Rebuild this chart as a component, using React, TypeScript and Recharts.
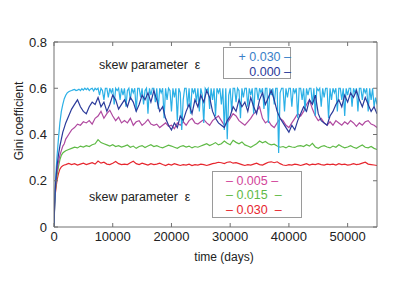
import React from 'react'
import { LineChart, Line, XAxis, YAxis } from 'recharts'

// time axis (days) shared by most series
const times = [
  0, 100, 250, 500, 750, 1000, 1250, 1500, 1750, 2000,
  2500, 3000, 3500, 4000, 4500, 5000, 5500, 6000, 6500, 7000,
  7500, 8000, 8500, 9000, 9500, 10000, 10500, 11000, 11500, 12000,
  12500, 13000, 13500, 14000, 14500, 15000, 15500, 16000, 16500, 17000,
  17500, 18000, 18500, 19000, 19500, 20000, 20500, 21000, 21500, 22000,
  22500, 23000, 23500, 24000, 24500, 25000, 25500, 26000, 26500, 27000,
  27500, 28000, 28500, 29000, 29500, 30000, 30500, 31000, 31500, 32000,
  32500, 33000, 33500, 34000, 34500, 35000, 35500, 36000, 36500, 37000,
  37500, 38000, 38500, 39000, 39500, 40000, 40500, 41000, 41500, 42000,
  42500, 43000, 43500, 44000, 44500, 45000, 45500, 46000, 46500, 47000,
  47500, 48000, 48500, 49000, 49500, 50000, 50500, 51000, 51500, 52000,
  52500, 53000, 53500, 54000, 54500, 55000,
]

// finer time axis for the noisy eps = +0.030 run
const timesFine = [
  0, 250, 500, 750, 1000, 1250, 1500, 1750, 2000, 2250,
  2500, 2750, 3000, 3250, 3500, 3750, 4000, 4250, 4500, 4750,
  5000, 5250, 5500, 5750, 6000, 6250, 6500, 6750, 7000, 7250,
  7500, 7750, 8000, 8250, 8500, 8750, 9000, 9250, 9500, 9750,
  10000, 10250, 10500, 10750, 11000, 11250, 11500, 11750, 12000, 12250,
  12500, 12750, 13000, 13250, 13500, 13750, 14000, 14250, 14500, 14750,
  15000, 15250, 15500, 15750, 16000, 16250, 16500, 16750, 17000, 17250,
  17500, 17750, 18000, 18250, 18500, 18750, 19000, 19250, 19500, 19750,
  20000, 20250, 20500, 20750, 21000, 21250, 21500, 21750, 22000, 22250,
  22500, 22750, 23000, 23250, 23500, 23750, 24000, 24250, 24500, 24750,
  25000, 25250, 25500, 25750, 26000, 26250, 26500, 26750, 27000, 27250,
  27500, 27750, 28000, 28250, 28500, 28750, 29000, 29250, 29500, 29750,
  30000, 30250, 30500, 30750, 31000, 31250, 31500, 31750, 32000, 32250,
  32500, 32750, 33000, 33250, 33500, 33750, 34000, 34250, 34500, 34750,
  35000, 35250, 35500, 35750, 36000, 36250, 36500, 36750, 37000, 37250,
  37500, 37750, 38000, 38250, 38500, 38750, 39000, 39250, 39500, 39750,
  40000, 40250, 40500, 40750, 41000, 41250, 41500, 41750, 42000, 42250,
  42500, 42750, 43000, 43250, 43500, 43750, 44000, 44250, 44500, 44750,
  45000, 45250, 45500, 45750, 46000, 46250, 46500, 46750, 47000, 47250,
  47500, 47750, 48000, 48250, 48500, 48750, 49000, 49250, 49500, 49750,
  50000, 50250, 50500, 50750, 51000, 51250, 51500, 51750, 52000, 52250,
  52500, 52750, 53000, 53250, 53500, 53750, 54000, 54250, 54500, 54750, 55000,
]

// eps = +0.030 (on timesFine)
const giniPos030 = [
  0, 0.2, 0.3, 0.38, 0.45, 0.5, 0.53, 0.555, 0.57, 0.58,
  0.585, 0.588, 0.59, 0.593, 0.595, 0.59, 0.592, 0.596, 0.59, 0.598,
  0.592, 0.6, 0.594, 0.6, 0.59, 0.597, 0.6, 0.588, 0.6, 0.594,
  0.6, 0.57, 0.6, 0.59, 0.55, 0.6, 0.6, 0.56, 0.6, 0.58,
  0.6, 0.53, 0.6, 0.59, 0.6, 0.55, 0.6, 0.57, 0.6, 0.52,
  0.59, 0.6, 0.55, 0.6, 0.58, 0.6, 0.5, 0.6, 0.6, 0.56,
  0.6, 0.53, 0.59, 0.6, 0.49, 0.6, 0.57, 0.6, 0.6, 0.54,
  0.6, 0.51, 0.6, 0.58, 0.6, 0.47, 0.6, 0.55, 0.6, 0.59,
  0.5, 0.6, 0.56, 0.6, 0.46, 0.6, 0.58, 0.42, 0.55, 0.6,
  0.6, 0.52, 0.6, 0.49, 0.6, 0.58, 0.6, 0.54, 0.6, 0.5,
  0.6, 0.57, 0.45, 0.6, 0.59, 0.6, 0.51, 0.6, 0.55, 0.6,
  0.48, 0.6, 0.58, 0.6, 0.53, 0.6, 0.42, 0.6, 0.38, 0.57,
  0.6, 0.5, 0.6, 0.6, 0.54, 0.6, 0.59, 0.47, 0.6, 0.56,
  0.6, 0.6, 0.52, 0.6, 0.57, 0.6, 0.49, 0.6, 0.6, 0.55,
  0.6, 0.58, 0.6, 0.51, 0.6, 0.6, 0.45, 0.6, 0.57, 0.6,
  0.53, 0.6, 0.6, 0.32, 0.58, 0.6, 0.6, 0.5, 0.6, 0.56,
  0.6, 0.6, 0.52, 0.6, 0.58, 0.6, 0.47, 0.6, 0.6, 0.55,
  0.6, 0.5, 0.6, 0.57, 0.6, 0.6, 0.53, 0.6, 0.48, 0.6,
  0.59, 0.6, 0.52, 0.6, 0.56, 0.6, 0.6, 0.47, 0.6, 0.55,
  0.6, 0.58, 0.6, 0.5, 0.6, 0.6, 0.55, 0.6, 0.48, 0.6,
  0.57, 0.6, 0.6, 0.52, 0.6, 0.58, 0.6, 0.5, 0.6, 0.6,
  0.55, 0.6, 0.58, 0.6, 0.5, 0.6, 0.55, 0.6, 0.52, 0.56, 0.53,
]

// eps = 0.000
const gini000 = [
  0, 0.1, 0.18, 0.26, 0.31, 0.35, 0.38, 0.41, 0.43, 0.45,
  0.48, 0.51, 0.53, 0.55, 0.52, 0.5, 0.49, 0.52, 0.54, 0.53,
  0.56, 0.52, 0.54, 0.5, 0.53, 0.57, 0.55, 0.51, 0.53, 0.55,
  0.52, 0.56, 0.54, 0.5, 0.53, 0.57, 0.55, 0.58, 0.54, 0.59,
  0.55, 0.5, 0.52, 0.47, 0.44, 0.42, 0.45, 0.43, 0.48, 0.46,
  0.5, 0.53, 0.49, 0.55, 0.52, 0.57, 0.54, 0.59, 0.56, 0.5,
  0.47, 0.45, 0.44, 0.43, 0.46, 0.48, 0.52, 0.5, 0.55, 0.52,
  0.54, 0.5, 0.56, 0.52, 0.49, 0.55, 0.58, 0.53, 0.56, 0.59,
  0.55, 0.5, 0.47, 0.45, 0.43, 0.41, 0.44, 0.42, 0.46, 0.49,
  0.52, 0.5, 0.55, 0.53, 0.57, 0.49, 0.46, 0.45, 0.44, 0.48,
  0.5, 0.53, 0.55, 0.52, 0.57, 0.54, 0.58, 0.56, 0.59, 0.55,
  0.52, 0.56, 0.53, 0.5, 0.52, 0.49,
]

// eps = -0.005
const giniNeg005 = [
  0, 0.1, 0.17, 0.24, 0.28, 0.31, 0.33, 0.35, 0.36, 0.38,
  0.4, 0.42, 0.43, 0.445, 0.44, 0.455, 0.45, 0.46, 0.445, 0.47,
  0.48, 0.5, 0.47, 0.49, 0.505, 0.48, 0.46, 0.475, 0.45, 0.46,
  0.45, 0.47, 0.44, 0.455, 0.46, 0.44, 0.45, 0.465, 0.445, 0.44,
  0.445, 0.43, 0.44, 0.45, 0.435, 0.44, 0.425, 0.45, 0.44, 0.455,
  0.44, 0.46, 0.47, 0.45, 0.445, 0.455, 0.465, 0.45, 0.44, 0.46,
  0.47, 0.48, 0.46, 0.44, 0.45, 0.47, 0.49, 0.48, 0.46, 0.45,
  0.44, 0.455, 0.47, 0.49, 0.5, 0.52, 0.47, 0.45, 0.46, 0.44,
  0.43, 0.45, 0.47, 0.46, 0.44, 0.43, 0.45, 0.47, 0.49, 0.48,
  0.5, 0.53, 0.55, 0.51, 0.48, 0.46, 0.47, 0.45, 0.44, 0.455,
  0.44, 0.46, 0.45, 0.44, 0.455, 0.445, 0.46, 0.45, 0.435, 0.45,
  0.44, 0.455, 0.46, 0.445, 0.44, 0.43,
]

// eps = -0.015
const giniNeg015 = [
  0, 0.1, 0.16, 0.22, 0.26, 0.29, 0.31, 0.32, 0.325, 0.33,
  0.335, 0.34, 0.345, 0.342, 0.35, 0.346, 0.352, 0.348, 0.356, 0.36,
  0.378, 0.365, 0.36, 0.355, 0.35, 0.356, 0.348, 0.352, 0.346, 0.35,
  0.355, 0.345, 0.35, 0.34, 0.348, 0.352, 0.344, 0.35, 0.356, 0.348,
  0.352, 0.346, 0.342, 0.348, 0.354, 0.35, 0.345, 0.34, 0.348, 0.352,
  0.346, 0.35, 0.342, 0.348, 0.345, 0.35, 0.355, 0.36, 0.352, 0.358,
  0.365, 0.355, 0.36, 0.372, 0.362, 0.356, 0.375, 0.366, 0.36, 0.368,
  0.355, 0.35, 0.345, 0.352, 0.36, 0.372, 0.364, 0.37, 0.36, 0.355,
  0.358, 0.35, 0.345, 0.348, 0.342, 0.35, 0.346, 0.344, 0.35, 0.352,
  0.348, 0.356, 0.35, 0.362, 0.346, 0.34, 0.348, 0.352, 0.346, 0.342,
  0.35, 0.345, 0.356, 0.348, 0.342, 0.346, 0.352, 0.345, 0.34, 0.348,
  0.355, 0.345, 0.342, 0.348, 0.34, 0.335,
]

// eps = -0.030
const giniNeg030 = [
  0, 0.09, 0.15, 0.2, 0.23, 0.25, 0.26, 0.265, 0.268, 0.27,
  0.275, 0.27, 0.274, 0.268, 0.272, 0.276, 0.27, 0.274, 0.278, 0.272,
  0.285, 0.276, 0.28, 0.272, 0.27, 0.276, 0.283, 0.274, 0.27, 0.272,
  0.27, 0.278, 0.284, 0.274, 0.27, 0.276, 0.272, 0.268, 0.274, 0.27,
  0.272, 0.276, 0.27, 0.266, 0.272, 0.268, 0.274, 0.27, 0.266, 0.27,
  0.268, 0.272, 0.266, 0.27, 0.268, 0.272, 0.27, 0.266, 0.27, 0.274,
  0.276, 0.28, 0.278, 0.274, 0.28, 0.282, 0.276, 0.278, 0.274, 0.27,
  0.266, 0.27, 0.268, 0.272, 0.276, 0.27, 0.268, 0.274, 0.28, 0.282,
  0.278, 0.282, 0.274, 0.268, 0.266, 0.27, 0.268, 0.272, 0.27, 0.266,
  0.27, 0.274, 0.268, 0.272, 0.27, 0.274, 0.27, 0.268, 0.272, 0.27,
  0.272, 0.268, 0.274, 0.27, 0.272, 0.268, 0.27, 0.274, 0.27, 0.272,
  0.276, 0.28, 0.272, 0.27, 0.268, 0.266,
]

const xTicks = [0, 10000, 20000, 30000, 40000, 50000]
const yTicks = [0, 0.2, 0.4, 0.6, 0.8]

const data = times.map((t, i) => ({
  t,
  zero: gini000[i],
  neg005: giniNeg005[i],
  neg015: giniNeg015[i],
  neg030: giniNeg030[i],
}))
const dataFine = timesFine.map((t, i) => ({ t, pos030: giniPos030[i] }))

const FONT = '"Liberation Sans", Arial, Helvetica, sans-serif'
const AXIS = '#707070'
const TXT = '#222'
const SW = 1.2

const BottomTick = (p: any) => (
  <g>
    <line x1={p.x} y1={p.y} x2={p.x} y2={p.y - 4} stroke={AXIS} />
    <text x={p.x} y={p.y + 14} textAnchor="middle" fontSize={13} fill={TXT} fontFamily={FONT}>
      {p.payload.value}
    </text>
  </g>
)
const LeftTick = (p: any) => (
  <g>
    <line x1={p.x} y1={p.y} x2={p.x + 4} y2={p.y} stroke={AXIS} />
    <text x={p.x - 7} y={p.y + 4.5} textAnchor="end" fontSize={13} fill={TXT} fontFamily={FONT}>
      {p.payload.value === 0 ? '0' : p.payload.value.toFixed(1)}
    </text>
  </g>
)
const TopTick = (p: any) => <line x1={p.x} y1={p.y} x2={p.x} y2={p.y + 4} stroke={AXIS} />
const RightTick = (p: any) => <line x1={p.x} y1={p.y} x2={p.x - 4} y2={p.y} stroke={AXIS} />

const abs = (left: number, top: number, color: string, extra: any = {}): React.CSSProperties => ({
  position: 'absolute', left, top, color, fontSize: 12.5, fontFamily: FONT,
  lineHeight: '14px', whiteSpace: 'pre', ...extra,
})

export default function App() {
  return (
    <div style={{ position: 'absolute', left: 0, top: 0, width: 415, height: 294, background: '#fff' }}>
      <LineChart width={415} height={294} data={data} margin={{ top: 0, right: 0, bottom: 0, left: 0 }}>
        <XAxis
          dataKey="t" type="number" domain={[0, 55000]} ticks={xTicks} allowDataOverflow
          height={67} tickLine={false} tickSize={0} tickMargin={0} tick={<BottomTick />}
          axisLine={{ stroke: AXIS }}
          label={{
            content: () => (
              <text x={224} y={261} textAnchor="middle" fontSize={12} fill={TXT} fontFamily={FONT}>time (days)</text>
            ),
          }}
        />
        <XAxis
          xAxisId="top" orientation="top" dataKey="t" type="number" domain={[0, 55000]} ticks={xTicks}
          allowDataOverflow height={42} tickLine={false} tickSize={0} tickMargin={0} tick={<TopTick />}
          axisLine={{ stroke: AXIS }}
        />
        <YAxis
          type="number" domain={[0, 0.8]} ticks={yTicks} allowDataOverflow width={54}
          tickLine={false} tickSize={0} tickMargin={0} tick={<LeftTick />} axisLine={{ stroke: AXIS }}
          label={{
            content: () => (
              <text x={23} y={121} transform="rotate(-90, 23, 121)" textAnchor="middle" fontSize={12} fill={TXT} fontFamily={FONT}>
                Gini coefficient
              </text>
            ),
          }}
        />
        <YAxis
          yAxisId="right" orientation="right" type="number" domain={[0, 0.8]} ticks={yTicks} allowDataOverflow
          width={38} tickLine={false} tickSize={0} tickMargin={0} tick={<RightTick />} axisLine={{ stroke: AXIS }}
        />
        <Line dataKey="neg030" stroke="#e6262e" strokeWidth={SW} dot={false} isAnimationActive={false} />
        <Line dataKey="neg015" stroke="#5fba46" strokeWidth={SW} dot={false} isAnimationActive={false} />
        <Line dataKey="neg005" stroke="#b04aa0" strokeWidth={SW} dot={false} isAnimationActive={false} />
        <Line data={dataFine} dataKey="pos030" stroke="#2bb0e6" strokeWidth={SW} dot={false} isAnimationActive={false} />
        <Line dataKey="zero" stroke="#2b3a9a" strokeWidth={SW} dot={false} isAnimationActive={false} />
      </LineChart>

      <div style={abs(99, 58, TXT)}>skew parameter  ε</div>
      <div style={abs(89, 190, TXT)}>skew parameter  ε</div>

      <div style={{ position: 'absolute', left: 223, top: 47, width: 68, height: 32, boxSizing: 'border-box', border: '1px solid #9a9a9a', background: '#fff' }} />
      <div style={abs(223, 50, '#3a7fc8', { width: 68, textAlign: 'right' })}>+ 0.030 –</div>
      <div style={abs(223, 65, '#2b3a9a', { width: 68, textAlign: 'right' })}>0.000 –</div>

      <div style={{ position: 'absolute', left: 212, top: 171, width: 90, height: 47, boxSizing: 'border-box', border: '1px solid #9a9a9a', background: '#fff' }} />
      <div style={abs(226, 174, '#d2449a')}>– 0.005 –</div>
      <div style={abs(226, 188, '#5fba46')}>– 0.015  –</div>
      <div style={abs(226, 203, '#e6262e')}>– 0.030  –</div>
    </div>
  )
}
